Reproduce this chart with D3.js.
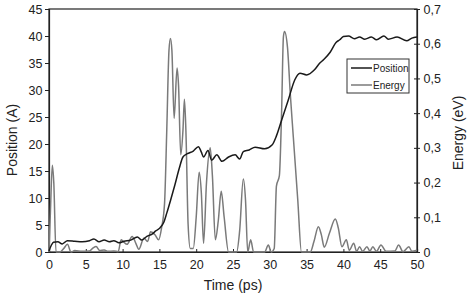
<!DOCTYPE html>
<html>
<head>
<meta charset="utf-8">
<script src="https://cdn.jsdelivr.net/npm/d3@7"></script>
<style>
    body { margin: 0; background: #fff; }
    svg text { font-family: "Liberation Sans", Arial, sans-serif; fill: #222; }
</style>
</head>
<body>
<div id="chart"></div>
<script>
// position trace (A) vs time (ps)
const posTime = [0, 0.3, 0.6, 1.2, 1.8, 2.5, 3.5, 4.5, 5.5, 6.1, 6.8, 7.5, 8.2, 8.8, 9.5, 10.2, 11.1, 12.0, 12.6, 13.3,
    14.0, 14.5, 15.1, 15.6, 16.0, 16.5, 17.1, 17.7, 18.2, 18.8, 19.6, 20.3, 20.7, 21.0, 21.6, 22.1, 22.8, 23.5, 24.4, 25.3,
    25.9, 26.4, 27.2, 28.0, 29.3, 30.3, 30.9, 31.6, 32.5, 33.4, 34.1, 35.0, 36.1, 36.8, 37.3, 38.2, 39.0, 39.5, 40.0, 40.7,
    41.5, 42.2, 42.9, 43.8, 44.5, 45.5, 46.1, 47.3, 48.6, 49.3, 50.0];
const posValues = [0.2, 1.2, 1.8, 1.9, 1.5, 2.1, 2.0, 1.9, 2.1, 2.4, 1.9, 2.2, 1.9, 2.1, 1.7, 2.0, 2.2, 2.8, 2.2, 2.9,
    3.3, 3.9, 4.5, 5.5, 7.2, 9.5, 12.4, 15.5, 17.6, 18.2, 18.7, 19.5, 18.5, 17.6, 18.8, 17.0, 18.0, 16.8, 17.6, 18.0,
    17.2, 18.6, 18.9, 19.4, 19.1, 19.8, 21.5, 24.4, 28.1, 31.9, 33.1, 32.8, 33.8, 35.0, 35.6, 37.0, 38.8, 39.3, 39.9, 40.0,
    39.5, 39.8, 39.4, 39.8, 39.3, 40.0, 39.4, 39.8, 39.1, 39.6, 39.8];

// energy trace (eV) vs time (ps)
const energyTime = [0, 0.2, 0.45, 0.65, 0.95, 1.5, 2.0, 2.5, 3.0, 3.5, 4.5, 5.5, 6.0, 6.4, 6.9, 7.5, 8.0, 8.8, 9.4, 9.8,
    10.1, 10.6, 11.3, 11.8, 12.2, 12.9, 13.4, 13.8, 14.4, 14.9, 15.3, 15.7, 16.0, 16.3, 16.5, 16.7, 17.0, 17.4, 17.6, 17.9,
    18.2, 18.4, 18.6, 18.9, 19.2, 19.6, 20.0, 20.4, 20.7, 21.0, 21.4, 21.9, 22.2, 22.6, 23.0, 23.4, 23.8, 24.4, 25.5, 25.9,
    26.4, 26.7, 27.0, 27.4, 27.8, 29.3, 29.8, 30.2, 30.6, 30.9, 31.3, 31.6, 31.85, 32.0, 32.4, 32.8, 33.2, 33.8, 34.3, 35.5,
    36.0, 36.6, 37.0, 37.4, 38.1, 38.9, 39.3, 39.8, 40.4, 40.8, 41.4, 41.8, 42.2, 42.6, 43.2, 43.6, 44.0, 44.5, 45.1, 45.8,
    47.0, 47.5, 48.1, 48.9, 49.3, 50.0];
const energyValues = [0, 0.12, 0.25, 0.2, 0, 0, 0.01, 0.022, 0, 0.004, 0.002, 0.003, 0.012, 0.016, 0.004, 0.006, 0.002, 0.003, 0.001, 0.035,
    0.03, 0.022, 0.045, 0.025, 0.008, 0.04, 0.03, 0.058, 0.05, 0.035, 0.07, 0.14, 0.35, 0.58, 0.615, 0.58, 0.385, 0.53, 0.48, 0.28,
    0.35, 0.44, 0.35, 0.08, 0.01, 0.01, 0.10, 0.23, 0.17, 0.025, 0.2, 0.30, 0.22, 0.035, 0.09, 0.175, 0.1, 0, 0, 0.06,
    0.21, 0.15, 0, 0.035, 0, 0, 0.02, 0, 0.01, 0.19, 0.22, 0.4, 0.62, 0.635, 0.59, 0.45, 0.33, 0.15, 0, 0,
    0.03, 0.073, 0.05, 0.014, 0.054, 0.095, 0.07, 0.015, 0.035, 0.005, 0.025, 0.002, 0.015, 0.002, 0.015, 0.003, 0.015, 0.002, 0.02, 0.002,
    0.003, 0.02, 0.001, 0.015, 0.002, 0.005];

const timeTicks = d3.range(0, 51, 5);
const posTicks = d3.range(0, 46, 5);
const energyTicks = [0, 0.1, 0.2, 0.3, 0.4, 0.5, 0.6, 0.7];
const legendItems = ['Position', 'Energy'];

const width = 469, height = 294;
const margin = {top: 9, right: 52, bottom: 42, left: 49};
const w = width - margin.left - margin.right,
    h = height - margin.top - margin.bottom;

const svg = d3.select('#chart').append('svg')
    .attr('width', width)
    .attr('height', height);

const g = svg.append('g')
    .attr('transform', 'translate(' + margin.left + ',' + margin.top + ')');

const x = d3.scaleLinear().domain([0, 50]).range([0, w]);
const yPos = d3.scaleLinear().domain([0, 45]).range([h, 0]);
const yEn = d3.scaleLinear().domain([0, 0.7]).range([h, 0]);

const comma = d => d3.format('.1f')(d).replace('.', ',').replace(/^0,0$/, '0');

// frame
g.append('rect')
    .attr('width', w)
    .attr('height', h)
    .attr('fill', 'none')
    .attr('stroke', '#222')
    .attr('stroke-width', 1.2);

const xAxis = g.append('g')
    .attr('transform', 'translate(0,' + h + ')')
    .call(d3.axisBottom(x).tickValues(timeTicks).tickSize(-3).tickPadding(8.5));

const yAxisL = g.append('g')
    .call(d3.axisLeft(yPos).tickValues(posTicks).tickSize(4).tickPadding(2.5));

const yAxisR = g.append('g')
    .attr('transform', 'translate(' + w + ',0)')
    .call(d3.axisRight(yEn).tickValues(energyTicks).tickFormat(d => d === 0 ? '0' : comma(d))
        .tickSize(3).tickPadding(3.5));
yAxisR.selectAll('.tick line').attr('x1', -3);

[xAxis, yAxisL, yAxisR].forEach(a => {
    a.select('.domain').attr('stroke', '#222').attr('stroke-width', 1.2);
    a.selectAll('.tick line').attr('stroke', '#222');
    a.selectAll('text').style('font-size', '12.5px').attr('fill', '#222');
});

// curves
const posLine = d3.line()
    .x((d, i) => x(posTime[i]))
    .y(d => yPos(d))
    .curve(d3.curveMonotoneX);

const enLine = d3.line()
    .x((d, i) => x(energyTime[i]))
    .y(d => yEn(d))
    .curve(d3.curveMonotoneX);

g.append('path')
    .attr('d', enLine(energyValues))
    .attr('fill', 'none')
    .attr('stroke', '#7a7a7a')
    .attr('stroke-width', 1.5);

g.append('path')
    .attr('d', posLine(posValues))
    .attr('fill', 'none')
    .attr('stroke', '#1a1a1a')
    .attr('stroke-width', 1.5);

// axis titles
svg.append('text')
    .attr('x', margin.left + w / 2)
    .attr('y', 290)
    .attr('text-anchor', 'middle')
    .style('font-size', '14px')
    .text('Time (ps)');

svg.append('text')
    .attr('transform', 'translate(16.5,140) rotate(-90)')
    .attr('text-anchor', 'middle')
    .style('font-size', '14px')
    .text('Position (A)');

svg.append('text')
    .attr('transform', 'translate(463,133) rotate(-90)')
    .attr('text-anchor', 'middle')
    .style('font-size', '14px')
    .text('Energy (eV)');

// legend
const legend = svg.append('g').attr('transform', 'translate(347,59)');
legend.append('rect')
    .attr('width', 62)
    .attr('height', 34)
    .attr('fill', '#fff')
    .attr('stroke', '#333');

const colors = ['#1a1a1a', '#7a7a7a'];
legendItems.forEach((name, i) => {
    const row = legend.append('g').attr('transform', 'translate(0,' + (9 + i * 17) + ')');
    row.append('line')
        .attr('x1', 4).attr('x2', 25)
        .attr('stroke', colors[i])
        .attr('stroke-width', 1.5);
    row.append('text')
        .attr('x', 26)
        .attr('dy', '0.35em')
        .style('font-size', '10px')
        .text(name);
});
</script>
</body>
</html>
